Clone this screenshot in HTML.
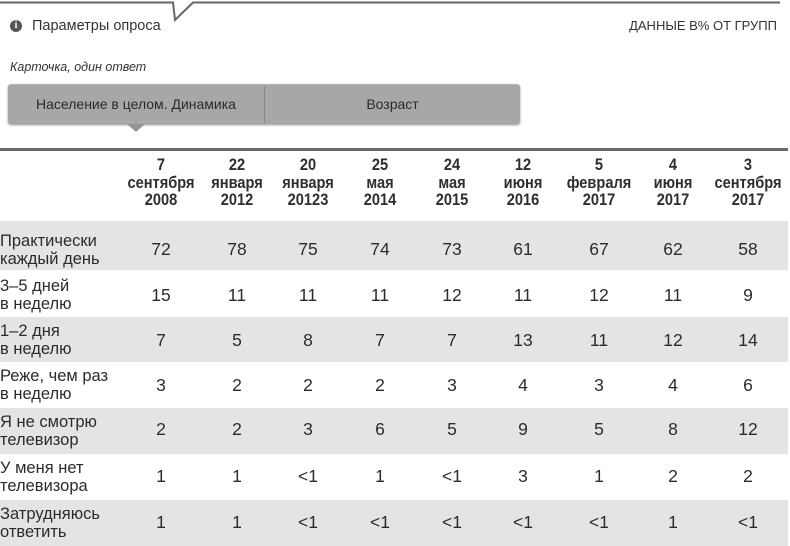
<!DOCTYPE html>
<html><head><meta charset="utf-8">
<style>
html,body{margin:0;padding:0;background:#fff;}
body{width:790px;height:546px;position:relative;overflow:hidden;font-family:"Liberation Sans","DejaVu Sans",sans-serif;color:#2b2b2b;}
.a{position:absolute;white-space:nowrap;}
.row{position:absolute;left:0;width:788px;}
.g{background:#e3e4e5;}
.lbl{position:absolute;left:0;font-size:16.5px;line-height:18px;color:#2b2b2b;}
.num{position:absolute;width:80px;margin-left:-40px;text-align:center;font-size:17.5px;line-height:20px;color:#2b2b2b;}
.hd{position:absolute;top:156px;width:90px;margin-left:-45px;text-align:center;font-weight:bold;font-size:17px;line-height:17.5px;color:#2e2e2e;transform:scaleX(0.86);}
</style></head><body>

<svg class="a" style="left:0;top:0" width="790" height="30">
<polyline points="0,2.5 173,2.5 175,20 193,2.5 780,2.5" fill="none" stroke="#666" stroke-width="2"/>
</svg>

<div class="a" style="left:10px;top:20px;width:12px;height:12px;border-radius:50%;background:#555;color:#fff;font-size:10px;font-weight:bold;line-height:12px;text-align:center;font-family:'Liberation Serif',serif;">i</div>
<div class="a" style="left:32px;top:17px;font-size:14.5px;line-height:18px;color:#333;">Параметры опроса</div>
<div class="a" style="right:13px;top:17px;font-size:13px;line-height:18px;color:#333;">ДАННЫЕ В% ОТ ГРУПП</div>

<div class="a" style="left:10px;top:59px;font-size:12.5px;line-height:16px;font-style:italic;color:#333;">Карточка, один ответ</div>

<div class="a" style="left:8px;top:84px;width:512px;height:40px;background:#a7a7a9;border-radius:3px;box-shadow:0 1px 2px rgba(0,0,0,0.45);border-top:1px solid #b8b8ba;box-sizing:border-box;"></div>
<div class="a" style="left:264px;top:86px;width:1px;height:37px;background:#858587;"></div>
<div class="a" style="left:8px;top:95px;width:256px;text-align:center;font-size:14px;line-height:18px;color:#2a2a2a;">Население в целом. Динамика</div>
<div class="a" style="left:265px;top:95px;width:255px;text-align:center;font-size:14px;line-height:18px;color:#2a2a2a;">Возраст</div>
<svg class="a" style="left:126px;top:124px" width="20" height="10"><polygon points="1,0 19,0 10,8" fill="#959597"/></svg>

<div class="a" style="left:0;top:148px;width:788px;height:3px;background:#6a6a6a;"></div>

<div class="hd" style="left:161px">7<br>сентября<br>2008</div>
<div class="hd" style="left:237px">22<br>января<br>2012</div>
<div class="hd" style="left:308px">20<br>января<br>20123</div>
<div class="hd" style="left:380px">25<br>мая<br>2014</div>
<div class="hd" style="left:452px">24<br>мая<br>2015</div>
<div class="hd" style="left:523px">12<br>июня<br>2016</div>
<div class="hd" style="left:599px">5<br>февраля<br>2017</div>
<div class="hd" style="left:673px">4<br>июня<br>2017</div>
<div class="hd" style="left:748px">3<br>сентября<br>2017</div>

<!-- Row 1 -->
<div class="row g" style="top:221px;height:49px;">
<div class="lbl" style="top:11px">Практически<br>каждый день</div>
<div class="num" style="top:18px;left:161px">72</div>
<div class="num" style="top:18px;left:237px">78</div>
<div class="num" style="top:18px;left:308px">75</div>
<div class="num" style="top:18px;left:380px">74</div>
<div class="num" style="top:18px;left:452px">73</div>
<div class="num" style="top:18px;left:523px">61</div>
<div class="num" style="top:18px;left:599px">67</div>
<div class="num" style="top:18px;left:673px">62</div>
<div class="num" style="top:18px;left:748px">58</div>
</div>

<!-- Row 2 -->
<div class="row" style="top:270px;height:47px;">
<div class="lbl" style="top:7px">3–5 дней<br>в неделю</div>
<div class="num" style="top:15px;left:161px">15</div>
<div class="num" style="top:15px;left:237px">11</div>
<div class="num" style="top:15px;left:308px">11</div>
<div class="num" style="top:15px;left:380px">11</div>
<div class="num" style="top:15px;left:452px">12</div>
<div class="num" style="top:15px;left:523px">11</div>
<div class="num" style="top:15px;left:599px">12</div>
<div class="num" style="top:15px;left:673px">11</div>
<div class="num" style="top:15px;left:748px">9</div>
</div>

<!-- Row 3 -->
<div class="row g" style="top:317px;height:45px;">
<div class="lbl" style="top:5px">1–2 дня<br>в неделю</div>
<div class="num" style="top:13px;left:161px">7</div>
<div class="num" style="top:13px;left:237px">5</div>
<div class="num" style="top:13px;left:308px">8</div>
<div class="num" style="top:13px;left:380px">7</div>
<div class="num" style="top:13px;left:452px">7</div>
<div class="num" style="top:13px;left:523px">13</div>
<div class="num" style="top:13px;left:599px">11</div>
<div class="num" style="top:13px;left:673px">12</div>
<div class="num" style="top:13px;left:748px">14</div>
</div>

<!-- Row 4 -->
<div class="row" style="top:362px;height:46px;">
<div class="lbl" style="top:5px">Реже, чем раз<br>в неделю</div>
<div class="num" style="top:13px;left:161px">3</div>
<div class="num" style="top:13px;left:237px">2</div>
<div class="num" style="top:13px;left:308px">2</div>
<div class="num" style="top:13px;left:380px">2</div>
<div class="num" style="top:13px;left:452px">3</div>
<div class="num" style="top:13px;left:523px">4</div>
<div class="num" style="top:13px;left:599px">3</div>
<div class="num" style="top:13px;left:673px">4</div>
<div class="num" style="top:13px;left:748px">6</div>
</div>

<!-- Row 5 -->
<div class="row g" style="top:408px;height:46px;">
<div class="lbl" style="top:5px">Я не смотрю<br>телевизор</div>
<div class="num" style="top:11px;left:161px">2</div>
<div class="num" style="top:11px;left:237px">2</div>
<div class="num" style="top:11px;left:308px">3</div>
<div class="num" style="top:11px;left:380px">6</div>
<div class="num" style="top:11px;left:452px">5</div>
<div class="num" style="top:11px;left:523px">9</div>
<div class="num" style="top:11px;left:599px">5</div>
<div class="num" style="top:11px;left:673px">8</div>
<div class="num" style="top:11px;left:748px">12</div>
</div>

<!-- Row 6 -->
<div class="row" style="top:454px;height:46px;">
<div class="lbl" style="top:5px">У меня нет<br>телевизора</div>
<div class="num" style="top:12px;left:161px">1</div>
<div class="num" style="top:12px;left:237px">1</div>
<div class="num" style="top:12px;left:308px">&lt;1</div>
<div class="num" style="top:12px;left:380px">1</div>
<div class="num" style="top:12px;left:452px">&lt;1</div>
<div class="num" style="top:12px;left:523px">3</div>
<div class="num" style="top:12px;left:599px">1</div>
<div class="num" style="top:12px;left:673px">2</div>
<div class="num" style="top:12px;left:748px">2</div>
</div>

<!-- Row 7 -->
<div class="row g" style="top:500px;height:46px;">
<div class="lbl" style="top:5px">Затрудняюсь<br>ответить</div>
<div class="num" style="top:12px;left:161px">1</div>
<div class="num" style="top:12px;left:237px">1</div>
<div class="num" style="top:12px;left:308px">&lt;1</div>
<div class="num" style="top:12px;left:380px">&lt;1</div>
<div class="num" style="top:12px;left:452px">&lt;1</div>
<div class="num" style="top:12px;left:523px">&lt;1</div>
<div class="num" style="top:12px;left:599px">&lt;1</div>
<div class="num" style="top:12px;left:673px">1</div>
<div class="num" style="top:12px;left:748px">&lt;1</div>
</div>

</body></html>
